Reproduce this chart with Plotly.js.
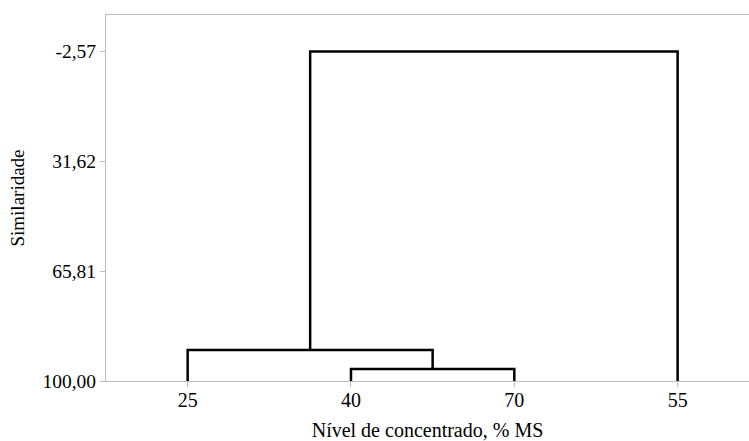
<!DOCTYPE html>
<html>
<head>
<meta charset="utf-8">
<script src="https://cdn.plot.ly/plotly-3.0.1.min.js"></script>
<style>html,body{margin:0;padding:0;background:#fff;}#chart{width:749px;height:441px;}</style>
</head>
<body>
<div id="chart"></div>
<script>
// Leaves (in dendrogram order)
const leafLabels = ['25', '40', '70', '55'];
const leafSimilarity = 100;
// Merges: cluster ids 0..3 are leaves; each merge creates id 4, 5, 6 ...
const mergeA = [1, 0, 5];
const mergeB = [2, 4, 3];
const mergeSimilarity = [96.27, 90.36, -2.57];
// Y tick labels
const yTickVals = [-2.57, 31.62, 65.81, 100.00];
const yTickText = ['-2,57', '31,62', '65,81', '100,00'];

const nodeX = leafLabels.map((_, i) => i);
const nodeY = leafLabels.map(() => leafSimilarity);
const traces = [];
for (let k = 0; k < mergeA.length; k++) {
  const a = mergeA[k], b = mergeB[k], h = mergeSimilarity[k];
  traces.push({
    type: 'scatter', mode: 'lines',
    x: [nodeX[a], nodeX[a], nodeX[b], nodeX[b]],
    y: [nodeY[a], h, h, nodeY[b]],
    line: {color: '#000', width: 2.5},
    hoverinfo: 'skip', showlegend: false, cliponaxis: false
  });
  nodeX.push((nodeX[a] + nodeX[b]) / 2);
  nodeY.push(h);
}

const fam = 'Liberation Serif';
const layout = {
  width: 749, height: 441,
  margin: {l: 106, r: 0, t: 15, b: 60},
  paper_bgcolor: '#fff', plot_bgcolor: '#fff',
  font: {family: fam, size: 19, color: '#000'},
  showlegend: false,
  xaxis: {
    range: [-0.5, 3.437],
    tickmode: 'array', tickvals: leafLabels.map((_, i) => i), ticktext: leafLabels,
    showgrid: false, zeroline: false,
    showline: true, linecolor: '#bdbdbd', linewidth: 1, mirror: true,
    ticks: 'outside', ticklen: 5, tickcolor: '#bdbdbd', tickwidth: 1,
    ticklabelstandoff: -4,
    tickfont: {family: fam, size: 20, color: '#000'},
    title: {text: 'Nível de concentrado, % MS', font: {family: fam, size: 20, color: '#000'}, standoff: 12}
  },
  yaxis: {
    range: [100, -13.9],
    tickmode: 'array', tickvals: yTickVals, ticktext: yTickText,
    showgrid: false, zeroline: false,
    showline: true, linecolor: '#bdbdbd', linewidth: 1,
    ticks: 'outside', ticklen: 5, tickcolor: '#bdbdbd', tickwidth: 1,
    tickfont: {family: fam, size: 19.5, color: '#000'},
    title: {text: 'Similaridade', font: {family: fam, size: 19, color: '#000'}, standoff: 12}
  }
};
Plotly.newPlot('chart', traces, layout, {displayModeBar: false, staticPlot: true});
</script>
</body>
</html>
